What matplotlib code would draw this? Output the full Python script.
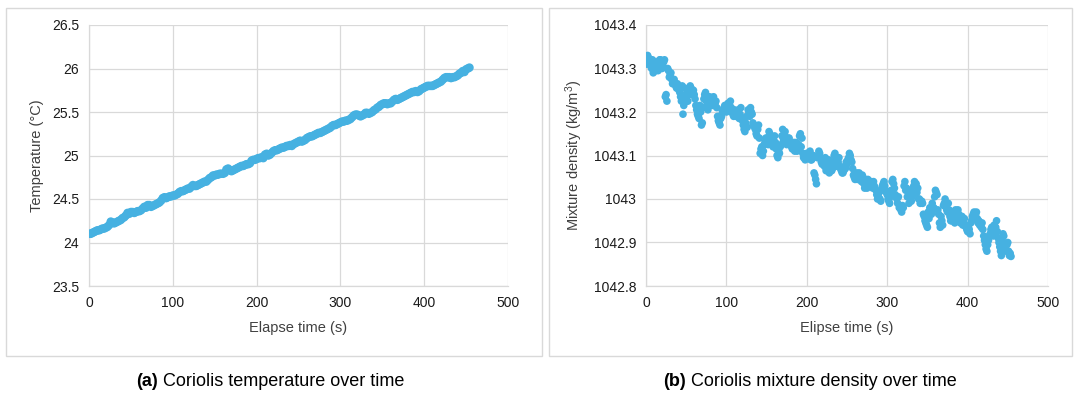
import numpy as np
import matplotlib
matplotlib.use("Agg")
import matplotlib.pyplot as plt
from matplotlib.patches import Rectangle

plt.rcParams['font.family'] = ['Liberation Sans', 'DejaVu Sans']
plt.rcParams['mathtext.fontset'] = 'custom'
plt.rcParams['mathtext.rm'] = 'Liberation Sans'
plt.rcParams['mathtext.it'] = 'Liberation Sans:italic'

# Elapsed time, even seconds and odd seconds
time_even = list(range(0, 456, 2))
time_odd = list(range(1, 455, 2))

# Coriolis temperature (°C), even seconds
temperature = [
    24.10, 24.10, 24.11, 24.12, 24.13, 24.14, 24.14, 24.15, 24.16, 24.16,
    24.17, 24.18, 24.20, 24.24, 24.23, 24.22, 24.23, 24.24, 24.25, 24.26,
    24.28, 24.29, 24.31, 24.34, 24.33, 24.35, 24.35, 24.34, 24.35, 24.36,
    24.36, 24.37, 24.39, 24.41, 24.40, 24.43, 24.43, 24.41, 24.42, 24.43,
    24.44, 24.45, 24.46, 24.48, 24.51, 24.52, 24.51, 24.52, 24.53, 24.53,
    24.54, 24.54, 24.55, 24.56, 24.58, 24.59, 24.59, 24.60, 24.61, 24.62,
    24.62, 24.64, 24.66, 24.65, 24.65, 24.66, 24.67, 24.68, 24.69, 24.70,
    24.70, 24.72, 24.74, 24.75, 24.77, 24.77, 24.78, 24.78, 24.79, 24.79,
    24.79, 24.80, 24.84, 24.85, 24.83, 24.82, 24.83, 24.84, 24.85, 24.86,
    24.87, 24.88, 24.88, 24.89, 24.90, 24.90, 24.91, 24.94, 24.95, 24.95,
    24.96, 24.97, 24.97, 24.98, 24.97, 25.01, 25.02, 25.00, 25.01, 25.03,
    25.05, 25.06, 25.06, 25.07, 25.08, 25.09, 25.09, 25.10, 25.11, 25.11,
    25.12, 25.11, 25.13, 25.14, 25.15, 25.16, 25.17, 25.16, 25.17, 25.18,
    25.20, 25.21, 25.22, 25.22, 25.23, 25.24, 25.25, 25.26, 25.26, 25.27,
    25.28, 25.29, 25.30, 25.31, 25.32, 25.34, 25.35, 25.35, 25.36, 25.37,
    25.38, 25.39, 25.39, 25.40, 25.40, 25.41, 25.42, 25.44, 25.46, 25.47,
    25.47, 25.46, 25.45, 25.46, 25.47, 25.49, 25.49, 25.48, 25.49, 25.50,
    25.52, 25.53, 25.55, 25.56, 25.58, 25.59, 25.60, 25.60, 25.59, 25.60,
    25.60, 25.62, 25.64, 25.65, 25.64, 25.65, 25.66, 25.67, 25.68, 25.69,
    25.70, 25.71, 25.72, 25.73, 25.73, 25.74, 25.73, 25.74, 25.76, 25.77,
    25.78, 25.79, 25.80, 25.80, 25.80, 25.80, 25.81, 25.82, 25.83, 25.84,
    25.85, 25.87, 25.89, 25.90, 25.90, 25.90, 25.89, 25.90, 25.90, 25.91,
    25.92, 25.94, 25.95, 25.97, 25.96, 25.99, 26.00, 26.01,
]

# Coriolis mixture density (kg/m3), even seconds
density_even = [
    1043.320, 1043.330, 1043.315, 1043.305, 1043.320, 1043.300, 1043.295, 1043.310, 1043.305, 1043.320,
    1043.300, 1043.315, 1043.235, 1043.225, 1043.295, 1043.285, 1043.275, 1043.270, 1043.265, 1043.255,
    1043.260, 1043.245, 1043.225, 1043.195, 1043.255, 1043.235, 1043.225, 1043.240, 1043.255, 1043.245,
    1043.240, 1043.215, 1043.195, 1043.185, 1043.200, 1043.175, 1043.230, 1043.245, 1043.215, 1043.225,
    1043.230, 1043.215, 1043.235, 1043.220, 1043.210, 1043.180, 1043.170, 1043.190, 1043.205, 1043.215,
    1043.200, 1043.220, 1043.215, 1043.210, 1043.195, 1043.205, 1043.190, 1043.200, 1043.185, 1043.210,
    1043.180, 1043.160, 1043.175, 1043.165, 1043.200, 1043.210, 1043.195, 1043.170, 1043.160, 1043.145,
    1043.170, 1043.105, 1043.120, 1043.110, 1043.130, 1043.140, 1043.125, 1043.150, 1043.135, 1043.120,
    1043.145, 1043.115, 1043.095, 1043.105, 1043.125, 1043.160, 1043.150, 1043.135, 1043.130, 1043.140,
    1043.125, 1043.115, 1043.130, 1043.120, 1043.110, 1043.125, 1043.150, 1043.140, 1043.095, 1043.090,
    1043.105, 1043.095, 1043.110, 1043.090, 1043.100, 1043.055, 1043.035, 1043.100, 1043.105, 1043.085,
    1043.090, 1043.075, 1043.065, 1043.080, 1043.060, 1043.085, 1043.070, 1043.100, 1043.090, 1043.075,
    1043.095, 1043.070, 1043.060, 1043.065, 1043.070, 1043.080, 1043.095, 1043.100, 1043.085, 1043.055,
    1043.045, 1043.060, 1043.050, 1043.055, 1043.040, 1043.050, 1043.025, 1043.030, 1043.045, 1043.035,
    1043.040, 1043.025, 1043.030, 1043.020, 1043.000, 1043.015, 1042.995, 1043.030, 1043.040, 1043.020,
    1043.010, 1042.995, 1043.005, 1043.040, 1043.035, 1043.010, 1043.000, 1043.005, 1042.985, 1042.970,
    1042.980, 1043.040, 1043.025, 1043.005, 1043.015, 1042.995, 1043.010, 1043.040, 1043.035, 1043.025,
    1043.000, 1042.995, 1042.990, 1042.960, 1042.945, 1042.935, 1042.955, 1042.975, 1042.990, 1042.980,
    1043.020, 1043.010, 1042.965, 1042.935, 1042.950, 1042.985, 1043.000, 1042.975, 1042.990, 1042.960,
    1042.950, 1042.970, 1042.945, 1042.965, 1042.975, 1042.960, 1042.950, 1042.940, 1042.955, 1042.935,
    1042.925, 1042.930, 1042.945, 1042.960, 1042.970, 1042.965, 1042.955, 1042.950, 1042.940, 1042.945,
    1042.915, 1042.895, 1042.880, 1042.905, 1042.920, 1042.935, 1042.915, 1042.930, 1042.950, 1042.910,
    1042.890, 1042.870, 1042.920, 1042.895, 1042.880, 1042.900, 1042.870, 1042.868,
]

# Coriolis mixture density (kg/m3), odd seconds
density_odd = [
    1043.310, 1043.325, 1043.320, 1043.300, 1043.290, 1043.305, 1043.315, 1043.295, 1043.320, 1043.310,
    1043.305, 1043.320, 1043.240, 1043.300, 1043.280, 1043.290, 1043.265, 1043.275, 1043.260, 1043.265,
    1043.250, 1043.235, 1043.260, 1043.215, 1043.240, 1043.225, 1043.250, 1043.260, 1043.240, 1043.250,
    1043.230, 1043.205, 1043.190, 1043.215, 1043.170, 1043.210, 1043.240, 1043.225, 1043.205, 1043.235,
    1043.225, 1043.230, 1043.215, 1043.225, 1043.190, 1043.175, 1043.185, 1043.200, 1043.210, 1043.205,
    1043.215, 1043.210, 1043.225, 1043.200, 1043.190, 1043.200, 1043.195, 1043.205, 1043.195, 1043.185,
    1043.170, 1043.155, 1043.190, 1043.205, 1043.190, 1043.200, 1043.175, 1043.165, 1043.150, 1043.160,
    1043.140, 1043.115, 1043.100, 1043.125, 1043.140, 1043.130, 1043.155, 1043.140, 1043.130, 1043.125,
    1043.130, 1043.100, 1043.110, 1043.120, 1043.145, 1043.135, 1043.155, 1043.125, 1043.140, 1043.130,
    1043.120, 1043.125, 1043.110, 1043.130, 1043.115, 1043.145, 1043.120, 1043.105, 1043.100, 1043.095,
    1043.100, 1043.105, 1043.090, 1043.095, 1043.060, 1043.045, 1043.095, 1043.110, 1043.095, 1043.080,
    1043.085, 1043.095, 1043.070, 1043.090, 1043.075, 1043.065, 1043.080, 1043.105, 1043.080, 1043.085,
    1043.075, 1043.065, 1043.060, 1043.075, 1043.085, 1043.090, 1043.105, 1043.090, 1043.070, 1043.050,
    1043.055, 1043.045, 1043.060, 1043.045, 1043.055, 1043.035, 1043.040, 1043.025, 1043.035, 1043.030,
    1043.035, 1043.040, 1043.025, 1043.010, 1043.005, 1043.000, 1043.020, 1043.035, 1043.030, 1043.015,
    1043.000, 1042.990, 1043.020, 1043.045, 1043.025, 1043.005, 1042.990, 1042.980, 1042.975, 1042.985,
    1043.030, 1043.020, 1043.005, 1042.990, 1043.020, 1043.005, 1043.030, 1043.030, 1043.015, 1043.000,
    1042.990, 1042.995, 1042.965, 1042.950, 1042.940, 1042.970, 1042.980, 1042.965, 1042.975, 1043.005,
    1043.015, 1042.975, 1042.945, 1042.960, 1042.940, 1042.990, 1042.985, 1042.970, 1042.975, 1042.950,
    1042.960, 1042.955, 1042.975, 1042.950, 1042.965, 1042.945, 1042.960, 1042.945, 1042.940, 1042.930,
    1042.935, 1042.920, 1042.950, 1042.965, 1042.960, 1042.970, 1042.945, 1042.940, 1042.935, 1042.930,
    1042.905, 1042.885, 1042.895, 1042.915, 1042.930, 1042.920, 1042.940, 1042.935, 1042.925, 1042.900,
    1042.880, 1042.905, 1042.915, 1042.885, 1042.895, 1042.880, 1042.875,
]

x_ticks = [0, 100, 200, 300, 400, 500]
temp_ticks = [23.5, 24, 24.5, 25, 25.5, 26, 26.5]
temp_labels = ["23.5", "24", "24.5", "25", "25.5", "26", "26.5"]
dens_ticks = [1042.8, 1042.9, 1043.0, 1043.1, 1043.2, 1043.3, 1043.4]
dens_labels = ["1042.8", "1042.9", "1043", "1043.1", "1043.2", "1043.3", "1043.4"]

MARK = "#46B1E1"
GRID = "#D9D9D9"
TEXT = "#404040"

W, H = 1077, 394
fig = plt.figure(figsize=(W / 100, H / 100), dpi=100)


def px_axes(x0, x1, y0, y1):
    return fig.add_axes([x0 / W, 1 - y1 / H, (x1 - x0) / W, (y1 - y0) / H])


def style(ax, yticks, ylabels, xlabel, ylabel):
    ax.set_xlim(0, 500)
    ax.set_xticks(x_ticks)
    ax.set_xticklabels([str(v) for v in x_ticks])
    ax.set_ylim(yticks[0], yticks[-1])
    ax.set_yticks(yticks)
    ax.set_yticklabels(ylabels)
    ax.grid(True, color=GRID, linewidth=0.9)
    ax.set_axisbelow(True)
    for side in ("top", "right"):
        ax.spines[side].set_visible(False)
    for side in ("left", "bottom"):
        ax.spines[side].set_color(GRID)
        ax.spines[side].set_linewidth(0.9)
    ax.tick_params(length=0, labelsize=10, labelcolor="#1a1a1a", pad=7)
    ax.set_xlabel(xlabel, fontsize=10.5, color=TEXT, labelpad=8)
    ax.set_ylabel(ylabel, fontsize=10.5, color=TEXT, labelpad=6)


# panel frames
for (x0, x1) in [(6, 542), (549, 1072)]:
    fig.patches.append(Rectangle((x0 / W, 1 - 356 / H), (x1 - x0) / W, (356 - 8) / H,
                                 transform=fig.transFigure, fill=False,
                                 edgecolor=GRID, linewidth=1.0))

ax1 = px_axes(89, 508, 25, 286)
ax1.scatter(time_even, temperature, s=38, color=MARK, edgecolors="none", zorder=3)
style(ax1, temp_ticks, temp_labels, "Elapse time (s)", "Temperature (°C)")

ax2 = px_axes(646, 1048, 25, 286)
ax2.scatter(time_even, density_even, s=30, color=MARK, edgecolors="none", zorder=3)
ax2.scatter(time_odd, density_odd, s=30, color=MARK, edgecolors="none", zorder=3)
style(ax2, dens_ticks, dens_labels, "Elipse time (s)", r"Mixture density (kg/m$^{3}$)")

# captions with bold panel letter
renderer = fig.canvas.get_renderer()
for cx, tag, rest in [(270, "(a)", " Coriolis temperature over time"),
                      (810, "(b)", " Coriolis mixture density over time")]:
    t1 = fig.text(0, 0, tag, fontsize=13, fontweight="bold", va="center")
    t2 = fig.text(0, 0, rest, fontsize=13, va="center")
    w1 = t1.get_window_extent(renderer).width
    w2 = t2.get_window_extent(renderer).width
    left = cx - (w1 + w2) / 2
    y = 1 - 381 / H
    t1.set_position((left / W, y))
    t2.set_position(((left + w1) / W, y))

fig.savefig("out.png", dpi=100)
